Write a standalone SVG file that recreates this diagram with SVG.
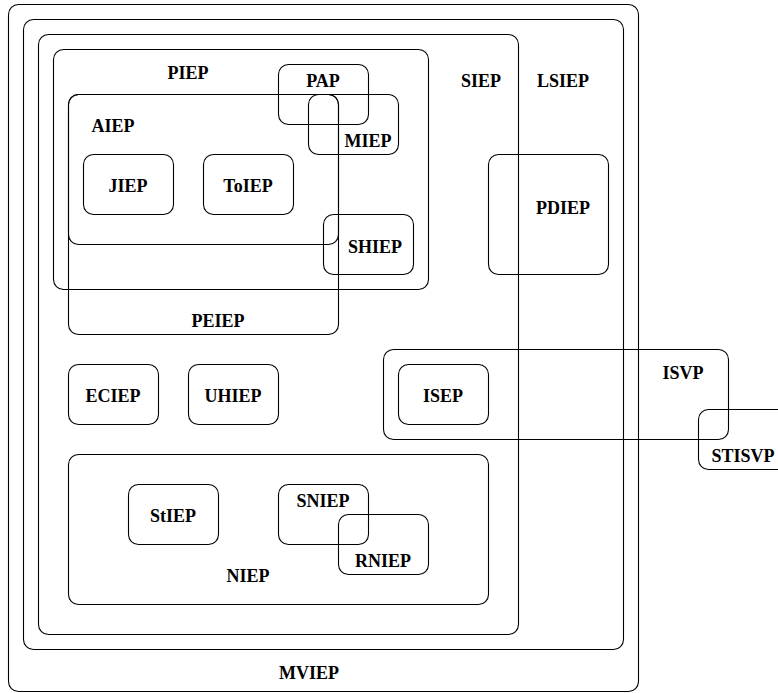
<svg xmlns="http://www.w3.org/2000/svg" width="778" height="693" viewBox="0 0 778 693">
<style>
rect{fill:none;stroke:#000;stroke-width:1.1}
text{font-family:"Liberation Serif","Times New Roman",serif;font-weight:bold;font-size:18px;fill:#000;text-anchor:middle}
</style>
<rect x="0" y="0" width="778" height="693" style="fill:#fff;stroke:none"/>
<g id="MVIEP"><rect x="8.5" y="4.5" width="630" height="687" rx="10"/><text x="309" y="679">MVIEP</text></g>
<g id="LSIEP"><rect x="23.5" y="19.5" width="600" height="630" rx="10"/><text x="563" y="87">LSIEP</text></g>
<g id="SIEP"><rect x="38.5" y="34.5" width="480" height="600" rx="10"/><text x="481" y="87">SIEP</text></g>
<g id="PIEP"><rect x="53.5" y="49.5" width="375" height="240" rx="10"/><text x="188" y="79">PIEP</text></g>
<g id="AIEP"><rect x="68.5" y="94.5" width="270" height="150" rx="10"/><text x="113" y="132">AIEP</text></g>
<g id="PEIEP"><rect x="68.5" y="94.5" width="270" height="240" rx="10"/><text x="218" y="327">PEIEP</text></g>
<g id="PAP"><rect x="278.5" y="64.5" width="90" height="60" rx="10"/><text x="323" y="87">PAP</text></g>
<g id="MIEP"><rect x="308.5" y="94.5" width="90" height="60" rx="10"/><text x="368" y="147">MIEP</text></g>
<g id="JIEP"><rect x="83.5" y="154.5" width="90" height="60" rx="10"/><text x="128" y="192">JIEP</text></g>
<g id="ToIEP"><rect x="203.5" y="154.5" width="90" height="60" rx="10"/><text x="248" y="192">ToIEP</text></g>
<g id="SHIEP"><rect x="323.5" y="214.5" width="90" height="60" rx="10"/><text x="375" y="253">SHIEP</text></g>
<g id="PDIEP"><rect x="488.5" y="154.5" width="120" height="120" rx="10"/><text x="563" y="214">PDIEP</text></g>
<g id="ECIEP"><rect x="68.5" y="364.5" width="90" height="60" rx="10"/><text x="113" y="402">ECIEP</text></g>
<g id="UHIEP"><rect x="188.5" y="364.5" width="90" height="60" rx="10"/><text x="233" y="402">UHIEP</text></g>
<g id="ISVP"><rect x="383.5" y="349.5" width="345" height="90" rx="10"/><text x="683" y="379">ISVP</text></g>
<g id="ISEP"><rect x="398.5" y="364.5" width="90" height="60" rx="10"/><text x="443" y="402">ISEP</text></g>
<g id="STISVP"><rect x="698.5" y="409.5" width="90" height="60" rx="10"/><text x="743" y="462">STISVP</text></g>
<g id="NIEP"><rect x="68.5" y="454.5" width="420" height="150" rx="10"/><text x="248" y="582">NIEP</text></g>
<g id="StIEP"><rect x="128.5" y="484.5" width="90" height="60" rx="10"/><text x="173" y="522">StIEP</text></g>
<g id="SNIEP"><rect x="278.5" y="484.5" width="90" height="60" rx="10"/><text x="323" y="507">SNIEP</text></g>
<g id="RNIEP"><rect x="338.5" y="514.5" width="90" height="60" rx="10"/><text x="383" y="567">RNIEP</text></g>
<g id="connectors"/>
</svg>
